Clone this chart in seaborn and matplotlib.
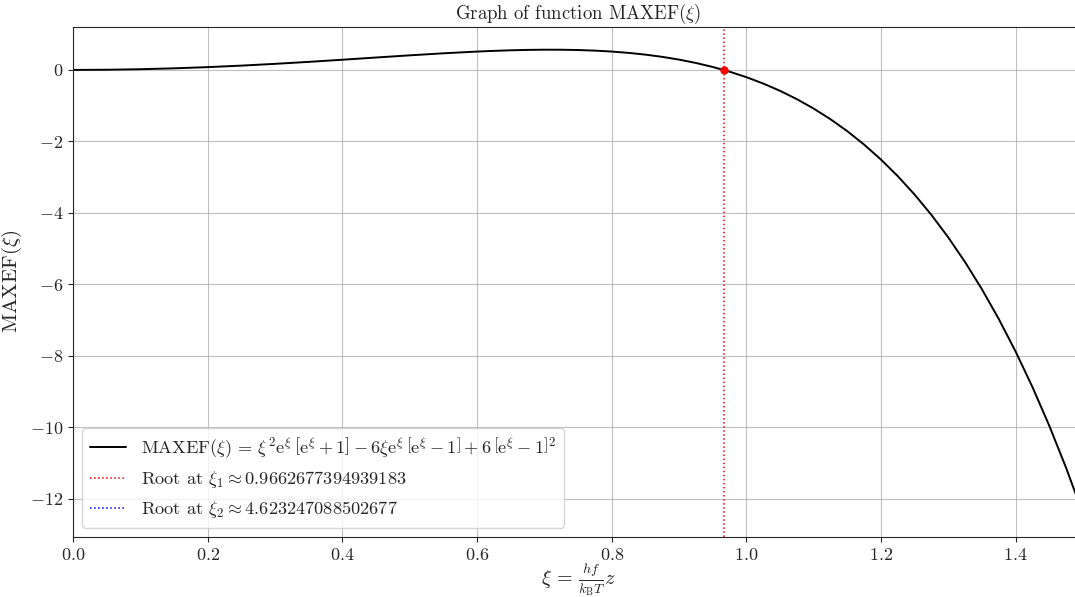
import numpy as np
import pandas as pd
import matplotlib
matplotlib.use("Agg")
import matplotlib.pyplot as plt
import seaborn as sns

# Sampled values of MAXEF(xi)
xi = [0.00, 0.05, 0.10, 0.15, 0.20, 0.25, 0.30, 0.35, 0.40, 0.45,
      0.50, 0.55, 0.60, 0.625, 0.65, 0.675, 0.70, 0.725, 0.75, 0.775,
      0.80, 0.825, 0.85, 0.875, 0.90, 0.925, 0.95, 0.975, 1.00, 1.025,
      1.05, 1.075, 1.10, 1.125, 1.15, 1.175, 1.20, 1.225, 1.25, 1.275,
      1.30, 1.325, 1.35, 1.375, 1.40, 1.425, 1.45, 1.475, 1.50]
maxef = [0.0, 0.00499, 0.01989, 0.04443, 0.07814, 0.12028, 0.16982, 0.22539,
         0.28521, 0.34704, 0.40810, 0.46502, 0.51369, 0.53344, 0.54924,
         0.56032, 0.56588, 0.56502, 0.55680, 0.54017, 0.51403, 0.47718,
         0.42831, 0.36605, 0.28890, 0.19526, 0.08342, -0.04846, -0.20235,
         -0.38035, -0.58470, -0.81780, -1.08220, -1.38063, -1.71598,
         -2.09135, -2.51003, -2.97550, -3.49148, -4.06190, -4.69095,
         -5.38306, -6.14293, -6.97514, -7.88617, -8.88040, -9.96413,
         -11.14361, -12.42542]

root_1 = 0.9662677394939183
root_2 = 4.623247088502677

sns.set_style("ticks")
plt.rcParams["font.family"] = "serif"
plt.rcParams["font.serif"] = ["cmr10", "DejaVu Serif"]
plt.rcParams["mathtext.fontset"] = "cm"
plt.rcParams["axes.formatter.use_mathtext"] = True
plt.rcParams["axes.unicode_minus"] = True

df = pd.DataFrame({"xi": xi, "maxef": maxef})

fig = plt.figure(figsize=(10.75, 5.97), dpi=100)
ax = fig.add_axes([73 / 1075, 60 / 597, 1010 / 1075, 510.5 / 597])

label_f = (r"$\mathrm{MAXEF}(\xi)\,=\,\xi^2\mathrm{e}^{\xi}\,\left[\mathrm{e}^{\xi}+1\right]"
           r" - 6\xi\mathrm{e}^{\xi}\,\left[\mathrm{e}^{\xi}-1\right]"
           r" + 6\,\left[\mathrm{e}^{\xi}-1\right]^2$")
sns.lineplot(data=df, x="xi", y="maxef", color="black", linewidth=1.4,
             label=label_f, ax=ax)

ax.axvline(root_1, color="red", linestyle=":", linewidth=1.1,
           label=r"Root at $\xi_1 \approx %s$" % repr(root_1))
ax.axvline(root_2, color="blue", linestyle=":", linewidth=1.1,
           label=r"Root at $\xi_2 \approx %s$" % repr(root_2))
ax.plot([root_1], [0.0], "o", color="red", markersize=5)

ax.set_xlim(0, 1.5)
ax.grid(True, color="#b0b0b0", linewidth=0.8, alpha=0.8)
ax.set_axisbelow(True)

ax.set_title(r"Graph of function $\mathrm{MAXEF}(\xi)$", fontsize=13.5, pad=4)
ax.set_xlabel(r"$\xi\,=\,\frac{hf}{k_\mathrm{B}T}z$", fontsize=14.5, labelpad=-1)
ax.set_ylabel(r"$\mathrm{MAXEF}(\xi)$", fontsize=15)
ax.tick_params(labelsize=13)

ax.legend(loc="lower left", fontsize=13.2, framealpha=0.8)

fig.savefig("out.png", dpi=100)
